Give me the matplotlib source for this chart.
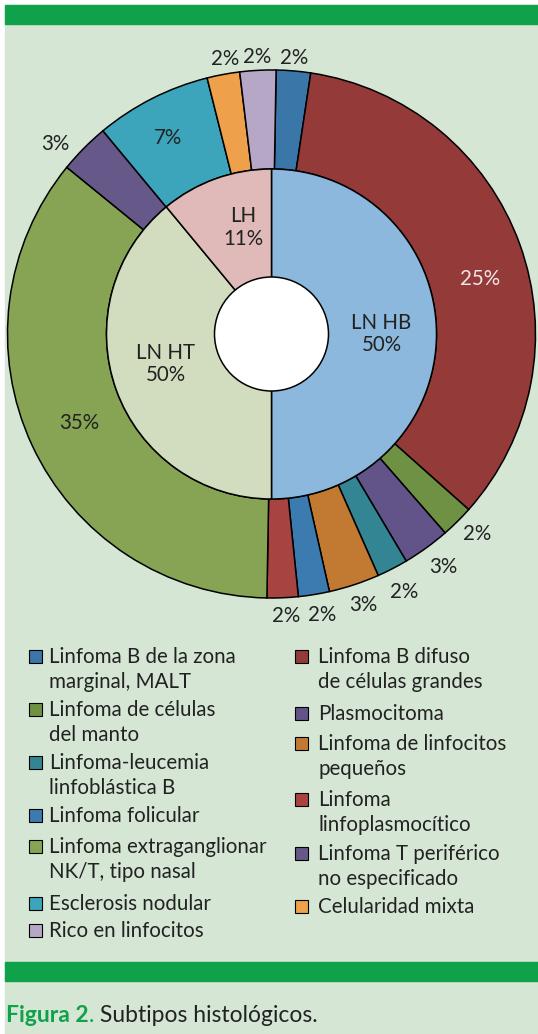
import numpy as np
import matplotlib.pyplot as plt
from matplotlib.patches import Rectangle, Circle

plt.rcParams['font.family'] = ['Lato', 'DejaVu Sans']

# --- data ---
outer_names = ["Linfoma B de la zona marginal, MALT", "Linfoma B difuso de células grandes",
               "Linfoma de células del manto", "Plasmocitoma", "Linfoma-leucemia linfoblástica B",
               "Linfoma de linfocitos pequeños", "Linfoma folicular", "Linfoma linfoplasmocítico",
               "Linfoma extraganglionar NK/T, tipo nasal", "Linfoma T periférico no especificado",
               "Esclerosis nodular", "Celularidad mixta", "Rico en linfocitos"]
outer_values = [2.1, 34.2, 2.0, 2.9, 1.9, 3.1, 1.9, 1.9, 35.6, 3.1, 7.1, 2.0, 2.2]
outer_labels = ["2%", "25%", "2%", "3%", "2%", "3%", "2%", "2%", "35%", "3%", "7%", "2%", "2%"]
outer_colors = ['#3a77a8', '#943a38', '#6f9144', '#625489', '#348594', '#c27a32', '#3b7bb0',
                '#a74442', '#86a454', '#665888', '#3ca5bb', '#eea04a', '#b6a7c6']

inner_names = ["LN HB", "LN HT", "LH"]
inner_values = [50, 39, 11]
inner_labels = ["LN HB\n50%", "LN HT\n50%", "LH\n11%"]
inner_colors = ['#8db8dd', '#d2ddc0', '#e0bab8']

legend_left = ["Linfoma B de la zona\nmarginal, MALT", "Linfoma de células\ndel manto",
               "Linfoma-leucemia\nlinfoblástica B", "Linfoma folicular",
               "Linfoma extraganglionar\nNK/T, tipo nasal", "Esclerosis nodular", "Rico en linfocitos"]
legend_left_colors = ['#3a77a8', '#6f9144', '#348594', '#3b7bb0', '#86a454', '#3ca5bb', '#b6a7c6']
legend_right = ["Linfoma B difuso\nde células grandes", "Plasmocitoma",
                "Linfoma de linfocitos\npequeños", "Linfoma\nlinfoplasmocítico",
                "Linfoma T periférico\nno especificado", "Celularidad mixta"]
legend_right_colors = ['#943a38', '#625489', '#c27a32', '#a74442', '#665888', '#eea04a']

W, H = 538, 1034
BG = '#d5e6d4'
GREEN = '#10a24a'
TXT = '#222222'
FS = 14.8

fig = plt.figure(figsize=(W / 100, H / 100), dpi=100)
ax = fig.add_axes([0, 0, 1, 1])

# pixel helper: image y (down) -> axes y (up)
def py(y):
    return H - y

# --- panel and bars ---
ax.add_patch(Rectangle((5, py(1034)), W - 5, 1034 - 5, color=BG, zorder=0))
ax.add_patch(Rectangle((5, py(24)), W - 5, 19, color=GREEN, zorder=1))
ax.add_patch(Rectangle((5, py(981)), W - 5, 19, color=GREEN, zorder=1))

# --- donut ---
cx, cy = 271.5, py(334)
r_out, r_mid, r_hole = 264, 165, 57
edge = dict(edgecolor='black', linewidth=1.1)

wo, _ = ax.pie(outer_values, colors=outer_colors, startangle=89, counterclock=False,
               radius=r_out, center=(cx, cy), wedgeprops=dict(width=r_out - r_mid, **edge))
wi, _ = ax.pie(inner_values, colors=inner_colors, startangle=90, counterclock=False,
               radius=r_mid, center=(cx, cy), wedgeprops=edge)
ax.add_patch(Circle((cx, cy), r_hole, facecolor='white', **edge, zorder=5))

# pie() resets the limits, put the pixel frame back
ax.set_xlim(0, W)
ax.set_ylim(0, H)
ax.set_aspect('auto')
ax.axis('off')

label_r = [277, 216, 287, 289, 290, 286, 286, 282, 212, 288, 222, 279, 277]
label_da = [0, -5, 1, 0.5, 0, 0.5, 1, 0.5, 0, 3.5, 1, -1, 0]
for w, lab, r, da in zip(wo, outer_labels, label_r, label_da):
    a = np.radians((w.theta1 + w.theta2) / 2 + da)
    col = '#f3e6e6' if lab == "25%" else TXT
    ax.text(cx + r * np.cos(a), cy + r * np.sin(a), lab, ha='center', va='center',
            fontsize=FS, color=col, zorder=6)

inner_da = [0, -4, -5]
for w, lab, da in zip(wi, inner_labels, inner_da):
    a = np.radians((w.theta1 + w.theta2) / 2 + da)
    ax.text(cx + 110 * np.cos(a), cy + 110 * np.sin(a), lab, ha='center', va='center',
            fontsize=FS, color=TXT, linespacing=1.15, zorder=6)

# --- legend ---
left_base = [663, 716, 769, 822, 853, 910, 937]
right_base = [663, 720, 750, 806, 860, 913]

def legend_col(names, colors, bases, xm, xt):
    for name, c, b in zip(names, colors, bases):
        ax.add_patch(Rectangle((xm, py(b)), 13, 13, facecolor=c, edgecolor='black',
                               linewidth=0.8, zorder=3))
        for i, line in enumerate(name.split('\n')):
            ax.text(xt, py(b + 25 * i), line, ha='left', va='baseline',
                    fontsize=FS, color=TXT, zorder=3)

legend_col(legend_left, legend_left_colors, left_base, 28.5, 49)
legend_col(legend_right, legend_right_colors, right_base, 295, 318)

# --- caption ---
CFS = 16.5
t = ax.text(6, py(1022), "Figura 2", ha='left', va='baseline', fontsize=CFS,
            fontweight='bold', color=GREEN)
fig.canvas.draw()
x1 = ax.transData.inverted().transform(t.get_window_extent().p1)[0]
t2 = ax.text(x1, py(1022), ".", ha='left', va='baseline', fontsize=CFS, color=GREEN)
fig.canvas.draw()
x2 = ax.transData.inverted().transform(t2.get_window_extent().p1)[0]
ax.text(x2, py(1022), " Subtipos histológicos.", ha='left', va='baseline',
        fontsize=CFS, color=TXT)

fig.savefig('out.png', dpi=100, facecolor='white')
